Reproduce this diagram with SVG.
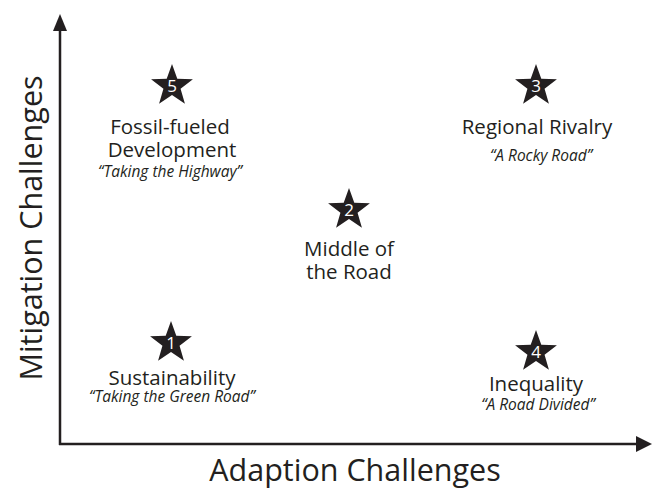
<svg xmlns="http://www.w3.org/2000/svg" xmlns:xlink="http://www.w3.org/1999/xlink" width="652" height="489" viewBox="0 0 652 489">
<style>
text{font-family:"Open Sans","DejaVu Sans",sans-serif;fill:#231f20;text-anchor:middle}
.ax{font-size:30.5px}
.lb{font-size:20.5px}
.it{font-size:15.5px;font-style:italic}
.num{font-size:17px;fill:#ffffff}
.axis{stroke:#231f20;stroke-width:2.5;fill:none}
.star{fill:#231f20}
</style>
<defs>
<polygon id="star" class="star" points="0,-22 5.29,-7.28 20.92,-6.8 8.56,2.78 12.93,17.8 0,9 -12.93,17.8 -8.56,2.78 -20.92,-6.8 -5.29,-7.28"/>
</defs>
<rect width="652" height="489" fill="#ffffff"/>
<g id="connectors">
<line class="axis" x1="60" y1="445" x2="60" y2="28"/>
<polygon points="60,14 53,31 67,31" fill="#231f20"/>
<line class="axis" x1="59" y1="444" x2="638" y2="444"/>
<polygon points="652,444 636,436 636,452" fill="#231f20"/>
</g>
<g id="axis-labels">
<text class="ax" x="355" y="481">Adaption Challenges</text>
<text class="ax" transform="translate(42,228) rotate(-90)">Mitigation Challenges</text>
</g>
<g id="node5">
<use xlink:href="#star" x="172" y="86"/>
<text class="num" x="172" y="92">5</text>
<text class="lb"><tspan x="170" y="134">Fossil-fueled</tspan><tspan x="172" y="157">Development</tspan><tspan class="it" x="170" y="177">“Taking the Highway”</tspan></text>
</g>
<g id="node3">
<use xlink:href="#star" x="536" y="86"/>
<text class="num" x="536" y="92">3</text>
<text class="lb"><tspan x="537" y="134">Regional Rivalry</tspan><tspan class="it" x="541" y="161">“A Rocky Road”</tspan></text>
</g>
<g id="node2">
<use xlink:href="#star" x="349" y="210"/>
<text class="num" x="349" y="216">2</text>
<text class="lb"><tspan x="349" y="256">Middle of</tspan><tspan x="349" y="279">the Road</tspan></text>
</g>
<g id="node1">
<use xlink:href="#star" x="171" y="343"/>
<text class="num" x="171" y="349">1</text>
<text class="lb"><tspan x="172" y="385">Sustainability</tspan><tspan class="it" x="172" y="402">“Taking the Green Road”</tspan></text>
</g>
<g id="node4">
<use xlink:href="#star" x="536" y="352"/>
<text class="num" x="536" y="358">4</text>
<text class="lb"><tspan x="536" y="391">Inequality</tspan><tspan class="it" x="538" y="410">“A Road Divided”</tspan></text>
</g>
</svg>
